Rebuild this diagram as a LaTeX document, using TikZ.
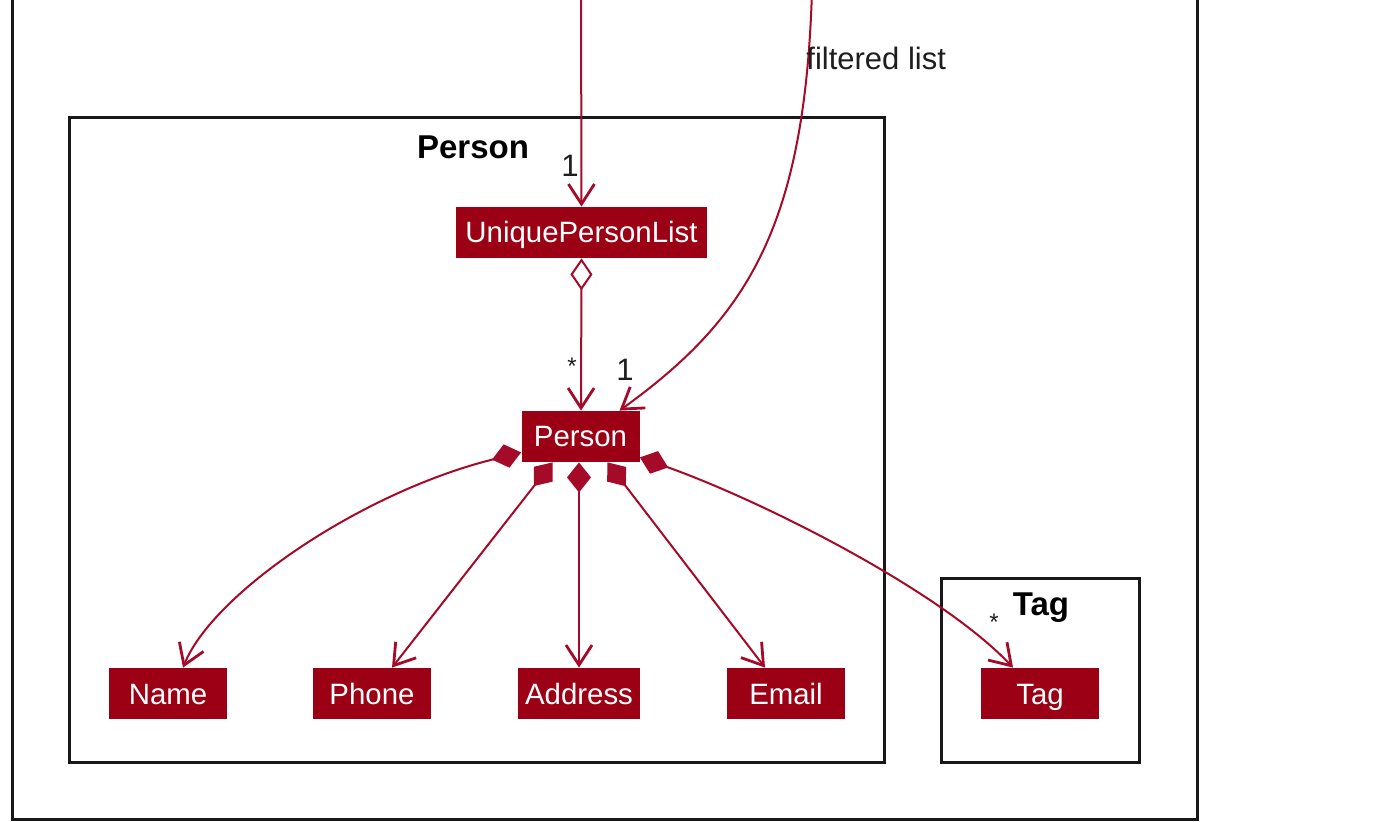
\documentclass[tikz,border=0pt]{standalone}
\usepackage{fontspec}
\setmainfont{Liberation Sans}
\usetikzlibrary{arrows.meta}
\definecolor{cls}{RGB}{155,0,20}
\definecolor{lnk}{RGB}{165,10,40}
\definecolor{frame}{RGB}{24,24,24}
\definecolor{lbl}{RGB}{30,30,30}
\tikzset{
  clsbox/.style={rectangle, fill=cls, draw=none, text=white, inner sep=0pt,
    minimum height=25.5pt, text height=10.5pt, text depth=0pt, font=\fontsize{14.7}{17}\selectfont},
  pkg/.style={draw=frame, line width=1.5pt},
  pkgtitle/.style={font=\fontsize{16.5}{19}\selectfont\bfseries, text=black, inner sep=0pt},
  multlbl/.style={font=\fontsize{15.5}{18}\selectfont, text=lbl, inner sep=0pt},
  starlbl/.style={font=\fontsize{12}{14}\selectfont, text=lbl, inner sep=0pt},
  tipend/.style={},
  assoc/.style={draw=lnk, line width=1pt, -{Straight Barb[length=10pt,width=13pt,line width=1.4pt]}},
  compo/.style={draw=lnk, line width=1pt, {Diamond[length=15pt,width=12pt]}-{Straight Barb[length=10pt,width=13pt,line width=1.4pt]}},
  aggr/.style={draw=lnk, line width=1pt, {Diamond[open,length=16pt,width=11pt,fill=white]}-{Straight Barb[length=10pt,width=13pt,line width=1.4pt]}},
}
\begin{document}
\begin{tikzpicture}[x=0.5pt,y=-0.5pt]
\useasboundingbox (0,0) rectangle (1380,822);
\clip (0,0) rectangle (1380,822);
\fill[white] (0,0) rectangle (1380,822);
% outer package
\draw[pkg] (12,-20) rectangle (1197,819);
% Person package
\draw[pkg] (69,118) rectangle (884,762);
\node[pkgtitle] (ptitle) at (473,147) {Person};
% Tag package
\draw[pkg] (941,579) rectangle (1139,762);
\node[pkgtitle] (ttitle) at (1041,608) {Tag};
% classes
\node[clsbox, minimum width=125.5pt] (upl) at (581.5,232.5) {UniquePersonList};
\node[clsbox, minimum width=59pt] (person) at (580.5,436.5) {Person};
\node[clsbox, minimum width=59pt] (name) at (168,693.5) {Name};
\node[clsbox, minimum width=59pt] (phone) at (372,693.5) {Phone};
\node[clsbox, minimum width=61pt] (address) at (579,693.5) {Address};
\node[clsbox, minimum width=59pt] (email) at (786,693.5) {Email};
\node[clsbox, minimum width=59pt] (tag) at (1040,693.5) {Tag};
% free ends at the top
\coordinate (topA) at (581,-10);
\coordinate (topB) at (812,-10);
% connectors
\draw[assoc] (topA) -- (upl.north);
\node[multlbl] (m1) at (570,166) {1};
\draw[assoc] (topB) .. controls (805,230) and (745,320) .. ([xshift=19.5pt]person.north);
\node[multlbl, anchor=west] (fl) at (806,58) {filtered list};
\node[multlbl] (m2) at (625,370) {1};
\draw[aggr] (upl.south) -- ([xshift=0.25pt]person.north);
\node[starlbl] (m3) at (572,366) {*};
\draw[compo] ([yshift=5pt]person.south west) .. controls (362,492) and (213,593) .. ([xshift=7.5pt]name.north);
\draw[compo] ([xshift=-14pt]person.south) -- ([xshift=10pt]phone.north);
\draw[compo] ([xshift=-0.75pt]person.south) -- (address.north);
\draw[compo] ([xshift=13.5pt]person.south) -- ([xshift=-10.5pt]email.north);
\draw[compo] ([yshift=2.5pt]person.south east) .. controls (760,500) and (940,590) .. ([xshift=-13.5pt]tag.north);
\node[starlbl] (m4) at (994,622) {*};
\end{tikzpicture}
\end{document}
